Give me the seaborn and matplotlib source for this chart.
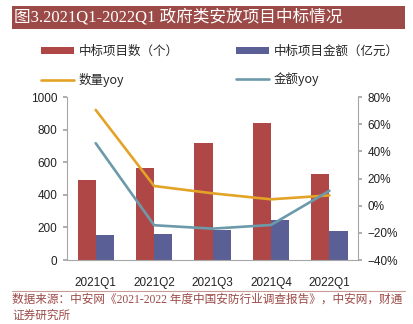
import numpy as np
import pandas as pd
import matplotlib
matplotlib.use("Agg")
import matplotlib.pyplot as plt
from matplotlib.patches import Patch, Rectangle
from matplotlib.lines import Line2D
import seaborn as sns

categories = ["2021Q1", "2021Q2", "2021Q3", "2021Q4", "2022Q1"]
count_vals = [490, 566, 716, 839, 528]
amount_vals = [152, 158, 182, 245, 178]
count_yoy = [70.5, 14.5, 9.1, 4.7, 7.6]
amount_yoy = [46.0, -14.4, -16.9, -14.2, 11.0]
left_ticks = [0, 200, 400, 600, 800, 1000]
right_ticks = [-40, -20, 0, 20, 40, 60, 80]

s_count = "中标项目数（个）"
s_amount = "中标项目金额（亿元）"
s_cyoy = "数量yoy"
s_ayoy = "金额yoy"

RED = "#B04747"
BLUE = "#5A5F95"
ORANGE = "#E3A327"
TEAL = "#6C9AAA"
BAND = "#9B4A47"
GRAY = "#A6A6A6"

sns.set_theme(style="white")
plt.rcParams['font.family'] = ['Liberation Sans', 'Noto Sans CJK SC', 'DejaVu Sans']

df = pd.DataFrame({
    "cat": categories * 2,
    "val": count_vals + amount_vals,
    "series": [s_count] * len(categories) + [s_amount] * len(categories),
})

fig = plt.figure(figsize=(4.14, 3.24), dpi=100)
ax = fig.add_axes([0.162, 0.1975, 0.703, 0.503])
sns.barplot(data=df, x="cat", y="val", hue="series", order=categories,
            hue_order=[s_count, s_amount], palette=[RED, BLUE],
            width=0.62, ax=ax, legend=False, saturation=1, edgecolor="none")
ax.set_xlim(-0.49, 4.49)
ax.set_ylim(0, 1000)
ax.set_yticks(left_ticks)
ax.set_xlabel("")
ax.set_ylabel("")

ax2 = ax.twinx()
xs = list(range(len(categories)))
sns.lineplot(x=xs, y=count_yoy, ax=ax2, color=ORANGE, linewidth=1.9)
sns.lineplot(x=xs, y=amount_yoy, ax=ax2, color=TEAL, linewidth=1.9)
ax2.set_ylim(-40, 80)
ax2.set_yticks(right_ticks)
ax2.set_yticklabels([f"{t}%".replace("-", "\u2212") for t in right_ticks])
ax2.set_xlim(-0.49, 4.49)

for a in (ax, ax2):
    a.spines["top"].set_visible(False)
    for side in ("left", "right", "bottom"):
        a.spines[side].set_color(GRAY)
        a.spines[side].set_linewidth(0.8)
ax.spines["right"].set_visible(False)
ax2.spines["left"].set_visible(False)
ax2.spines["bottom"].set_visible(False)

ax.tick_params(axis="y", which="both", left=True, length=3, color=GRAY,
               labelsize=8.5, labelcolor="#222222", pad=4)
ax.tick_params(axis="x", bottom=False, labelsize=8.5, labelcolor="#222222", pad=6)
ax2.tick_params(axis="y", right=True, length=3, color=GRAY,
                labelsize=8.5, labelcolor="#222222", pad=4)

# Title band
fig.patches.append(Rectangle((12 / 414, 1 - 29 / 324), (405 - 12) / 414, 23 / 324,
                             transform=fig.transFigure, facecolor=BAND,
                             edgecolor="none", zorder=0))
fig.text(14 / 414, 1 - 17.5 / 324, "图3.2021Q1-2022Q1 政府类安放项目中标情况",
         color="white", fontsize=12, va="center", ha="left",
         family=['Liberation Serif', 'Noto Sans CJK SC'])

handles = [
    Patch(facecolor=RED, edgecolor="none"),
    Line2D([0], [0], color=ORANGE, lw=1.9),
    Patch(facecolor=BLUE, edgecolor="none"),
    Line2D([0], [0], color=TEAL, lw=1.9),
]
labels = [s_count, s_cyoy, s_amount, s_ayoy]
fig.legend(handles, labels, ncol=2, loc="upper left",
           bbox_to_anchor=(30 / 414, 1 - 34 / 324), frameon=False,
           handlelength=2.6, handleheight=0.5, handletextpad=0.4,
           columnspacing=4.6, labelspacing=1.15,
           prop={'family': ['Noto Sans CJK SC', 'DejaVu Sans'], 'size': 9})

# Source line and text
fig.add_artist(Line2D([12 / 414, 405 / 414], [1 - 291 / 324, 1 - 291 / 324],
                      transform=fig.transFigure, color="#C99A98", lw=0.8))
fig.text(12 / 414, 1 - 300 / 324,
         "数据来源：中安网《2021-2022 年度中国安防行业调查报告》，中安网，财通",
         color=BAND, fontsize=8.4, va="center", ha="left",
         family=['Liberation Serif', 'Noto Sans CJK SC'])
fig.text(12 / 414, 1 - 316 / 324, "证券研究所",
         color=BAND, fontsize=8.4, va="center", ha="left",
         family=['Liberation Serif', 'Noto Sans CJK SC'])

fig.savefig("out.png", dpi=100)
